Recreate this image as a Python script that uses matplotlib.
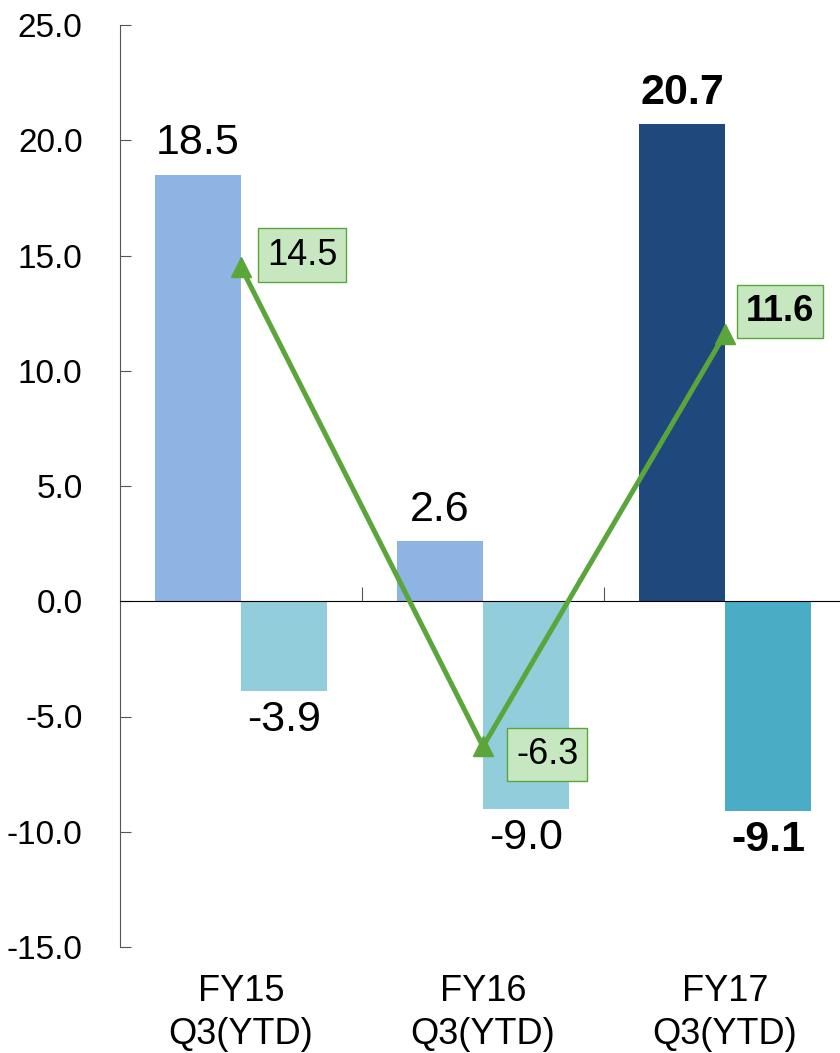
from matplotlib import pyplot as plt
import numpy as np

categories = ["FY15\nQ3(YTD)", "FY16\nQ3(YTD)", "FY17\nQ3(YTD)"]
series_a = [18.5, 2.6, 20.7]
series_b = [-3.9, -9.0, -9.1]
line_vals = [14.5, -6.3, 11.6]
yticks = [-15, -10, -5, 0, 5, 10, 15, 20, 25]

colors_a = ['#8EB4E3', '#8EB4E3', '#1F497D']
colors_b = ['#92CDDC', '#92CDDC', '#4BACC6']
green = '#5BA63A'
plt.rcParams['font.family'] = ['Liberation Sans', 'DejaVu Sans']

fig = plt.figure(figsize=[8.4, 10.53], dpi=100)
ax = fig.add_axes([120 / 840, 1 - 947 / 1053, 720 / 840, 922 / 1053])

x = np.arange(len(categories))
w = 86 / 242
ax.bar(x - w / 2, series_a, width=w, color=colors_a, zorder=2)
ax.bar(x + w / 2, series_b, width=w, color=colors_b, zorder=2)
ax.plot(x, line_vals, '^-', color=green, lw=3.6, ms=15, zorder=4)

ax.set_yticks(yticks)
ax.set_yticklabels([f"{v:.1f}" for v in yticks], fontsize=24)
ax.tick_params(axis='y', direction='in', length=8, color='#555555', pad=27)
ax.spines['left'].set_color('#555555')
ax.spines['right'].set_visible(False)
ax.spines['top'].set_visible(False)
ax.spines['bottom'].set_position(('data', 0))
ax.spines['bottom'].set_zorder(3)
ax.set_xticks([0.5, 1.5])
ax.set_xticklabels([])
ax.tick_params(axis='x', direction='in', length=10, color='#555555')
ax.set_xlim(-0.5, -0.5 + 720 / 242)
ax.set_ylim(-15, 25)

for i, cat in enumerate(categories):
  bold = 'bold' if i == 2 else 'normal'
  ax.text(x[i] - w / 2, series_a[i] + 0.5, f"{series_a[i]:.1f}", ha='center', va='bottom',
          fontsize=31, fontweight=bold)
  ax.text(x[i] + w / 2, series_b[i] - 0.4, f"{series_b[i]:.1f}", ha='center', va='top',
          fontsize=31, fontweight=bold)
  ax.text(x[i], -0.029, cat, transform=ax.get_xaxis_transform(), ha='center', va='top',
          fontsize=26, linespacing=1.3)

offsets = [(26, 12), (33, -8), (21, 22)]
for i, v in enumerate(line_vals):
  bold = 'bold' if i == 2 else 'normal'
  ax.annotate(f"{v:.1f}", (x[i], v), xytext=offsets[i], textcoords='offset pixels',
              ha='left', va='center', fontsize=26, fontweight=bold, zorder=5,
              bbox=dict(boxstyle='square,pad=0.25', fc='#C6E7C0', ec=green, lw=1))

plt.savefig("out.png", dpi=100)
